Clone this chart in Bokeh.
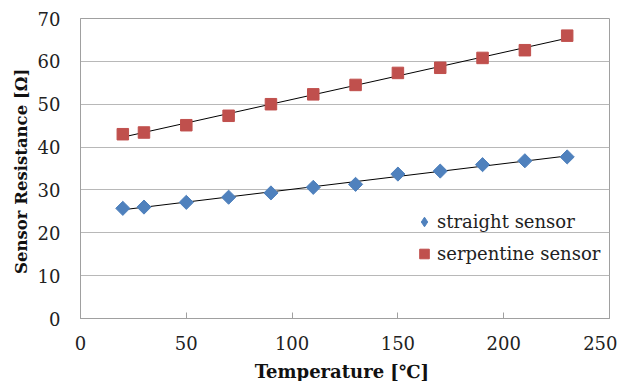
import numpy as np
from bokeh.plotting import figure
from bokeh.models import Range1d, Legend, LegendItem, FixedTicker
from bokeh.embed import file_html
from bokeh.resources import INLINE

temperature = [20, 30, 50, 70, 90, 110, 130, 150, 170, 190, 210, 230]
straight = [25.7, 26.0, 27.1, 28.3, 29.3, 30.6, 31.3, 33.7, 34.4, 35.9, 36.8, 37.7]
serpentine = [43.0, 43.4, 45.1, 47.3, 50.0, 52.3, 54.5, 57.3, 58.5, 60.8, 62.6, 66.0]
x_ticks = [0, 50, 100, 150, 200, 250]
y_ticks = [0, 10, 20, 30, 40, 50, 60, 70]

FONT = "DejaVu Serif"
BLUE = "#4F81BD"
RED = "#C0504D"

p = figure(output_backend="svg", toolbar_location=None,
           frame_width=529, frame_height=300,
           min_border_left=80, min_border_right=8,
           min_border_top=18, min_border_bottom=50,
           x_range=Range1d(0, 250), y_range=Range1d(0, 70))
p.background_fill_color = "white"
p.border_fill_color = "white"
p.outline_line_color = "#a0a0a0"

p.xgrid.grid_line_color = None
p.ygrid.grid_line_color = "#b8b8b8"
p.ygrid.ticker = FixedTicker(ticks=y_ticks)

p.xaxis.ticker = FixedTicker(ticks=x_ticks)
p.yaxis.ticker = FixedTicker(ticks=y_ticks)
for ax in (p.xaxis[0], p.yaxis[0]):
    ax.axis_line_color = "#a0a0a0"
    ax.major_label_text_font = FONT
    ax.major_label_text_font_size = "18px"
    ax.major_label_text_color = "#222222"
    ax.axis_label_text_font = FONT
    ax.axis_label_text_font_style = "bold"
    ax.axis_label_text_color = "#111111"
    ax.minor_tick_line_color = None

p.xaxis.major_tick_in = 6
p.xaxis.major_tick_out = 0
p.xaxis.major_tick_line_color = "#a0a0a0"
p.xaxis.major_label_standoff = 17
p.xaxis.axis_label = "Temperature  [℃]"
p.xaxis.axis_label_text_font_size = "18px"
p.xaxis.axis_label_standoff = 8

p.yaxis.major_tick_line_color = None
p.yaxis.major_label_standoff = 14
p.yaxis.axis_label = "Sensor Resistance  [Ω]"
p.yaxis.axis_label_text_font_size = "16.5px"
p.yaxis.axis_label_standoff = 4

# linear trend lines
t = np.array(temperature, dtype=float)
xs = np.array([min(temperature), max(temperature)], dtype=float)
for series in (straight, serpentine):
    k, b = np.polyfit(t, np.array(series), 1)
    p.line(xs, k * xs + b, line_color="black", line_width=1)

r1 = p.scatter(temperature, straight, marker="square", size=10, angle=np.pi / 4,
               fill_color=BLUE, line_color=BLUE)
r2 = p.scatter(temperature, serpentine, marker="square", size=11.5,
               fill_color=RED, line_color=RED)

# legend-only glyphs (legend markers are never rotated in Bokeh); NaN = not drawn
lg1 = p.scatter(x=[np.nan], y=[np.nan], marker="diamond", fill_color=BLUE, line_color=BLUE)
lg2 = p.scatter(x=[np.nan], y=[np.nan], marker="square", fill_color=RED, line_color=RED)

legend = Legend(items=[LegendItem(label="straight sensor", renderers=[lg1]),
                       LegendItem(label="serpentine sensor", renderers=[lg2])],
                location=(332, 52))
legend.background_fill_alpha = 0
legend.border_line_color = None
legend.label_text_font = FONT
legend.label_text_font_size = "18px"
legend.label_text_color = "#222222"
legend.padding = 0
legend.margin = 0
legend.spacing = 7
legend.glyph_width = 24
legend.glyph_height = 25
legend.label_height = 25
legend.label_standoff = 1
p.add_layout(legend)

open("out.html", "w").write(file_html(p, INLINE))
